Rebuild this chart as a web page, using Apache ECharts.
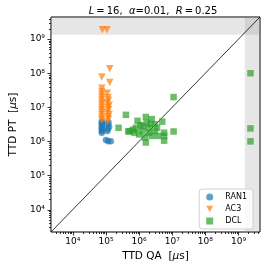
<!DOCTYPE html>
<html><head><meta charset="utf-8">
<script src="https://cdn.jsdelivr.net/npm/echarts@6/dist/echarts.min.js"></script>
<style>html,body{margin:0;padding:0;background:#fff}#c{width:266px;height:267px}</style>
</head><body><div id="c"></div>
<script>
// Axis limits and tick values
const LO = Math.pow(10, 3.34), HI = Math.pow(10, 9.65);
const majorTicks = [1e4, 1e5, 1e6, 1e7, 1e8, 1e9];
const timeoutPT = 1.35e9;   // top shaded band starts
const timeoutQA = 1.55e9;   // right shaded band starts

// RAN1
const ran1X = [7.5e4,7.5e4,7.5e4,7.5e4,7.5e4,7.5e4,7.5e4, 1.2e5,1.1e5,1.25e5,1.15e5,1.1e5, 1.0e5,1.17e5,1.4e5];
const ran1Y = [3.9e6,3.4e6,3.0e6,2.6e6,2.3e6,2.0e6,1.8e6, 3.6e6,3.1e6,2.7e6,2.3e6,2.0e6, 1.1e6,1.0e6,1.0e6];
// AC3
const ac3X = [7.8e4,1.07e5,
  7.5e4,7.5e4,7.5e4,7.5e4,7.5e4,7.5e4,7.5e4,7.5e4,7.5e4,7.5e4,7.5e4,7.5e4,7.5e4,7.5e4,
  1.3e5,1.3e5,1.1e5,1.15e5,1.2e5,1.1e5,1.25e5,1.15e5,1.2e5,1.1e5,1.25e5,1.15e5,1.2e5,1.1e5];
const ac3Y = [1.9e9,1.9e9,
  7.7e7,3.6e7,2.9e7,2.4e7,2.0e7,1.7e7,1.4e7,1.2e7,1.0e7,8.5e6,7.2e6,6.0e6,5.0e6,4.3e6,
  1.35e8,5.3e7,2.6e7,1.9e7,1.6e7,1.35e7,1.15e7,1.0e7,8.5e6,7.2e6,6.2e6,5.3e6,4.5e6,3.8e6];
// DCL
const dclX = [1.1e7,4.0e5,2.4e5,1.6e6,9.0e5,2.4e6,5.0e6,1.7e6,3.0e6,1.1e7,1.6e6,5.7e6,5.7e6,5.7e6,4.7e5,5.2e5,7.2e5,8.0e5,1.9e6,3.0e6,2.4e6,3.7e6,1.26e6,1.0e6,1.3e6,2.0e6,6.5e5,1.1e6,3.5e6,2.2e6,1.5e6, 2.3e9,2.3e9,2.3e9];
const dclY = [2.0e7,6.0e6,2.5e6,5.2e6,4.0e6,4.5e6,3.8e6,3.5e6,3.2e6,1.95e6,9.3e5,1.05e6,1.8e6,1.45e6,1.95e6,2.0e6,1.8e6,2.5e6,2.5e6,2.0e6,1.45e6,1.45e6,2.0e6,1.6e6,2.8e6,1.8e6,2.2e6,3.0e6,2.5e6,3.2e6,1.3e6, 1.0e8,2.4e6,1.0e6];

const zip = (a, b) => a.map((v, i) => [v, b[i]]);
// matplotlib-style minor ticks 2..9 x 10^k inside the limits
const minorTicks = [];
for (let e = 3; e <= 9; e++) for (let m = 2; m <= 9; m++) { const v = m * Math.pow(10, e); if (v > LO && v < HI) minorTicks.push(v); }

const FONT = 'DejaVu Sans';
const sup = {'0':'⁰','1':'¹','2':'²','3':'³','4':'⁴','5':'⁵','6':'⁶','7':'⁷','8':'⁸','9':'⁹'};
function fmt(v) {
  const e = Math.log10(v); const r = Math.round(e);
  if (Math.abs(e - r) > 1e-6) return '';
  return '10' + String(r).split('').map(c => sup[c]).join('');
}
const DOWN_TRI = 'path://M0,0L10,0L5,9Z';

const chart = echarts.init(document.getElementById('c'), null, {renderer: 'canvas'});
const tickX = majorTicks.map(v => [v, LO, 3.5]).concat(minorTicks.map(v => [v, LO, 2]));
const tickY = majorTicks.map(v => [LO, v, 3.5]).concat(minorTicks.map(v => [LO, v, 2]));

chart.setOption({
  animation: false,
  title: {
    text: '{i|L}\u2009=\u200916,  {i|α}=0.01,  {i|R}\u2009=\u20090.25',
    left: 148, top: 1, textAlign: 'center',
    textStyle: {fontFamily: FONT, fontSize: 10, fontWeight: 'normal', color: '#000',
      rich: {i: {fontFamily: FONT, fontSize: 10, fontStyle: 'italic', color: '#000'}}}
  },
  grid: {left: 39, right: 6, top: 17, bottom: 34, show: true, borderColor: '#000', borderWidth: 1, backgroundColor: 'transparent'},
  legend: {
    orient: 'vertical', right: 13, bottom: 38,
    data: [{name: 'RAN1', icon: 'circle'}, {name: 'AC3', icon: DOWN_TRI}, {name: 'DCL', icon: 'rect'}],
    itemWidth: 7, itemHeight: 7, itemGap: 4,
    padding: [4, 6, 4, 7],
    backgroundColor: 'rgba(255,255,255,0.85)', borderColor: '#d0d0d0', borderWidth: 1, borderRadius: 3,
    textStyle: {fontFamily: FONT, fontSize: 8, color: '#000', padding: [0, 0, 0, 7]}
  },
  xAxis: {
    type: 'log', min: LO, max: HI,
    name: 'TTD QA  [{i|μ}s]', nameLocation: 'middle', nameGap: 19,
    nameTextStyle: {fontFamily: FONT, fontSize: 10.5, color: '#000', rich: {i: {fontFamily: FONT, fontSize: 10.5, fontStyle: 'italic', color: '#000'}}},
    axisLine: {show: false}, axisTick: {show: false}, splitLine: {show: false}, minorTick: {show: false},
    axisLabel: {formatter: fmt, fontFamily: FONT, fontSize: 9, color: '#000', margin: 5, showMinLabel: false, showMaxLabel: false}
  },
  yAxis: {
    type: 'log', min: LO, max: HI,
    name: 'TTD PT  [{i|μ}s]', nameLocation: 'middle', nameGap: 27, nameRotate: 90,
    nameTextStyle: {fontFamily: FONT, fontSize: 10.5, color: '#000', rich: {i: {fontFamily: FONT, fontSize: 10.5, fontStyle: 'italic', color: '#000'}}},
    axisLine: {show: false}, axisTick: {show: false}, splitLine: {show: false}, minorTick: {show: false},
    axisLabel: {formatter: fmt, fontFamily: FONT, fontSize: 9, color: '#000', margin: 6, showMinLabel: false, showMaxLabel: false}
  },
  series: [
    {
      type: 'line', data: [[LO, LO], [HI, HI]], symbol: 'none', silent: true, z: 1,
      lineStyle: {color: '#000', width: 0.8},
      markArea: {silent: true, itemStyle: {color: 'rgba(128,128,128,0.2)'},
        data: [
          [{coord: [LO, timeoutPT]}, {coord: [HI, HI]}],
          [{coord: [timeoutQA, LO]}, {coord: [HI, HI]}]
        ]}
    },
    {name: 'RAN1', type: 'scatter', data: zip(ran1X, ran1Y), symbol: 'circle', symbolSize: 6.5, z: 3,
      itemStyle: {color: '#1f77b4', opacity: 0.7}},
    {name: 'AC3', type: 'scatter', data: zip(ac3X, ac3Y), symbol: 'triangle', symbolRotate: 180, symbolSize: 7.5, z: 3,
      itemStyle: {color: '#ff7f0e', opacity: 0.7}},
    {name: 'DCL', type: 'scatter', data: zip(dclX, dclY), symbol: 'rect', symbolSize: 6.5, z: 3,
      itemStyle: {color: '#2ca02c', opacity: 0.7}},
    {type: 'custom', data: tickX, silent: true, z: 5, clip: false,
      renderItem: (p, api) => { const c = api.coord([api.value(0), api.value(1)]); const x = Math.round(c[0]) + 0.5;
        return {type: 'line', shape: {x1: x, y1: c[1], x2: x, y2: c[1] + api.value(2)}, style: {stroke: '#000', lineWidth: 0.8}}; }},
    {type: 'custom', data: tickY, silent: true, z: 5, clip: false,
      renderItem: (p, api) => { const c = api.coord([api.value(0), api.value(1)]); const y = Math.round(c[1]) + 0.5;
        return {type: 'line', shape: {x1: c[0], y1: y, x2: c[0] - api.value(2), y2: y}, style: {stroke: '#000', lineWidth: 0.8}}; }}
  ]
});
</script></body></html>
